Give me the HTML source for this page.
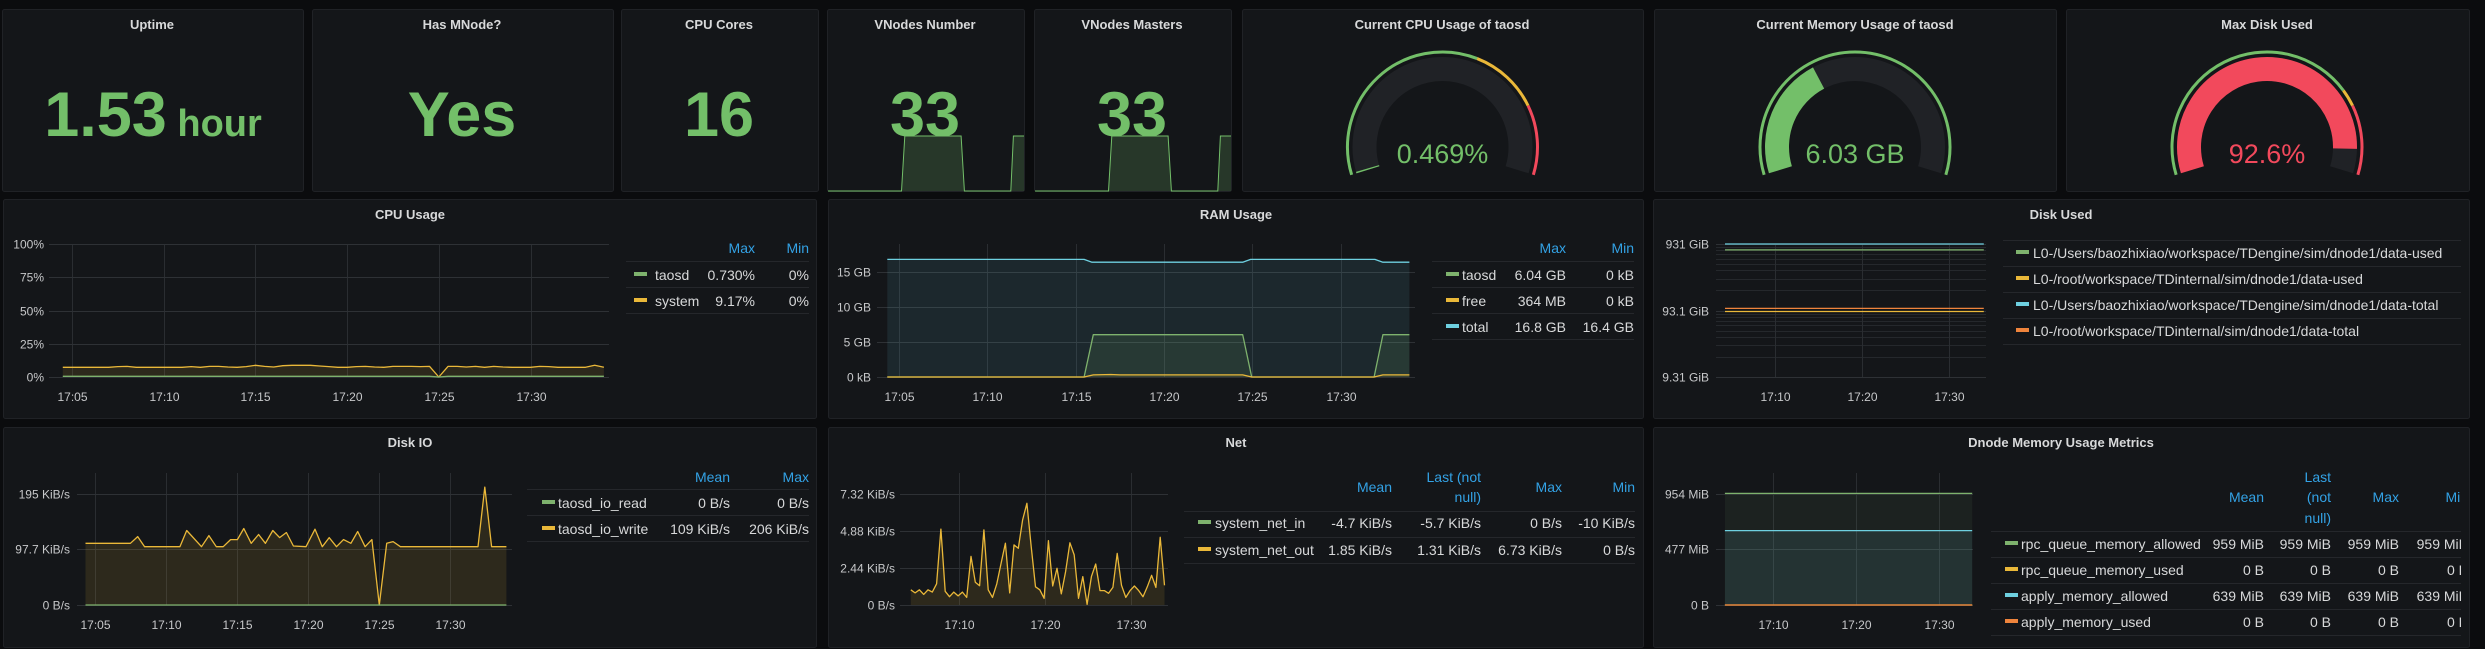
<!DOCTYPE html>
<html><head><meta charset="utf-8"><title>TDengine Dashboard</title>
<style>
html,body{margin:0;padding:0;background:#0b0c0e;width:2485px;height:649px;overflow:hidden}
svg{display:block;font-family:"Liberation Sans",sans-serif}
.ttl{font-size:13px;font-weight:bold;fill:#d8d9da;text-anchor:middle}
.lg{font-size:14px;fill:#d8d9da}
.lr{font-size:14px;fill:#d8d9da;text-anchor:end}
.hd{font-size:14px;fill:#33a2e5;text-anchor:end}
.tk{font-size:12px;fill:#c7c8ca}
.pn{fill:#141619;stroke:#202226;stroke-width:1}
</style></head><body>
<svg id="chart" width="2485" height="649" viewBox="0 0 2485 649" xmlns="http://www.w3.org/2000/svg">
<defs><clipPath id="dnclip"><rect x="1990" y="460" width="471" height="190"/></clipPath></defs>
<rect class="pn" x="2.5" y="9.5" width="301" height="182" rx="2"/>
<rect class="pn" x="312.5" y="9.5" width="301" height="182" rx="2"/>
<rect class="pn" x="621.5" y="9.5" width="197" height="182" rx="2"/>
<rect class="pn" x="827.5" y="9.5" width="197" height="182" rx="2"/>
<rect class="pn" x="1034.5" y="9.5" width="197" height="182" rx="2"/>
<rect class="pn" x="1242.5" y="9.5" width="401" height="182" rx="2"/>
<rect class="pn" x="1654.5" y="9.5" width="402" height="182" rx="2"/>
<rect class="pn" x="2066.5" y="9.5" width="403" height="182" rx="2"/>
<rect class="pn" x="3.5" y="199.5" width="813" height="219" rx="2"/>
<rect class="pn" x="828.5" y="199.5" width="815" height="219" rx="2"/>
<rect class="pn" x="1653.5" y="199.5" width="816" height="219" rx="2"/>
<rect class="pn" x="3.5" y="427.5" width="813" height="220" rx="2"/>
<rect class="pn" x="828.5" y="427.5" width="815" height="220" rx="2"/>
<rect class="pn" x="1653.5" y="427.5" width="816" height="220" rx="2"/>

<text class="ttl" x="152" y="29">Uptime</text>
<text class="ttl" x="462" y="29">Has MNode?</text>
<text class="ttl" x="719" y="29">CPU Cores</text>
<text class="ttl" x="925" y="29">VNodes Number</text>
<text class="ttl" x="1132" y="29">VNodes Masters</text>
<text class="ttl" x="1442" y="29">Current CPU Usage of taosd</text>
<text class="ttl" x="1855" y="29">Current Memory Usage of taosd</text>
<text class="ttl" x="2267" y="29">Max Disk Used</text>
<text class="ttl" x="410" y="219">CPU Usage</text>
<text class="ttl" x="1236" y="219">RAM Usage</text>
<text class="ttl" x="2061" y="219">Disk Used</text>
<text class="ttl" x="410" y="447">Disk IO</text>
<text class="ttl" x="1236" y="447">Net</text>
<text class="ttl" x="2061" y="447">Dnode Memory Usage Metrics</text>

<g id="spark"></g>

<text x="153" y="136" text-anchor="middle" fill="#73bf69" font-size="63" font-weight="bold">1.53<tspan font-size="38"> hour</tspan></text>
<text x="462" y="136" text-anchor="middle" fill="#73bf69" font-size="63" font-weight="bold">Yes</text>
<text x="719" y="136" text-anchor="middle" fill="#73bf69" font-size="63" font-weight="bold">16</text>

<g>
<text class="hd" x="755" y="253">Max</text><text class="hd" x="809" y="253">Min</text>
<line x1="626" x2="809" y1="261.5" y2="261.5" stroke="#25272b"/><line x1="626" x2="809" y1="287.5" y2="287.5" stroke="#25272b"/><line x1="626" x2="809" y1="313.5" y2="313.5" stroke="#25272b"/>
<rect x="634" y="272" width="13" height="4" fill="#7eb26d"/><text class="lg" x="655" y="280">taosd</text><text class="lr" x="755" y="280">0.730%</text><text class="lr" x="809" y="280">0%</text>
<rect x="634" y="298" width="13" height="4" fill="#eab839"/><text class="lg" x="655" y="306">system</text><text class="lr" x="755" y="306">9.17%</text><text class="lr" x="809" y="306">0%</text>
</g>
<g>
<text class="hd" x="1566" y="253">Max</text><text class="hd" x="1634" y="253">Min</text>
<line x1="1432" x2="1634" y1="261.5" y2="261.5" stroke="#25272b"/><line x1="1432" x2="1634" y1="287.5" y2="287.5" stroke="#25272b"/><line x1="1432" x2="1634" y1="313.5" y2="313.5" stroke="#25272b"/><line x1="1432" x2="1634" y1="339.5" y2="339.5" stroke="#25272b"/>
<rect x="1446" y="272" width="13" height="4" fill="#7eb26d"/><text class="lg" x="1462" y="280">taosd</text><text class="lr" x="1566" y="280">6.04 GB</text><text class="lr" x="1634" y="280">0 kB</text>
<rect x="1446" y="298" width="13" height="4" fill="#eab839"/><text class="lg" x="1462" y="306">free</text><text class="lr" x="1566" y="306">364 MB</text><text class="lr" x="1634" y="306">0 kB</text>
<rect x="1446" y="324" width="13" height="4" fill="#6ed0e0"/><text class="lg" x="1462" y="332">total</text><text class="lr" x="1566" y="332">16.8 GB</text><text class="lr" x="1634" y="332">16.4 GB</text>
</g>
<g>
<line x1="2003" x2="2461" y1="240.5" y2="240.5" stroke="#25272b"/><line x1="2003" x2="2461" y1="266.5" y2="266.5" stroke="#25272b"/><line x1="2003" x2="2461" y1="292.5" y2="292.5" stroke="#25272b"/><line x1="2003" x2="2461" y1="318.5" y2="318.5" stroke="#25272b"/><line x1="2003" x2="2461" y1="344.5" y2="344.5" stroke="#25272b"/>
<rect x="2016" y="250" width="13" height="4" fill="#7eb26d"/><text class="lg" x="2033" y="258">L0-/Users/baozhixiao/workspace/TDengine/sim/dnode1/data-used</text>
<rect x="2016" y="276" width="13" height="4" fill="#eab839"/><text class="lg" x="2033" y="284">L0-/root/workspace/TDinternal/sim/dnode1/data-used</text>
<rect x="2016" y="302" width="13" height="4" fill="#6ed0e0"/><text class="lg" x="2033" y="310">L0-/Users/baozhixiao/workspace/TDengine/sim/dnode1/data-total</text>
<rect x="2016" y="328" width="13" height="4" fill="#ef843c"/><text class="lg" x="2033" y="336">L0-/root/workspace/TDinternal/sim/dnode1/data-total</text>
</g>
<g>
<text class="hd" x="730" y="482">Mean</text><text class="hd" x="809" y="482">Max</text>
<line x1="527" x2="809" y1="489.5" y2="489.5" stroke="#25272b"/><line x1="527" x2="809" y1="515.5" y2="515.5" stroke="#25272b"/><line x1="527" x2="809" y1="541.5" y2="541.5" stroke="#25272b"/>
<rect x="542" y="500" width="13" height="4" fill="#7eb26d"/><text class="lg" x="558" y="508">taosd_io_read</text><text class="lr" x="730" y="508">0 B/s</text><text class="lr" x="809" y="508">0 B/s</text>
<rect x="542" y="526" width="13" height="4" fill="#eab839"/><text class="lg" x="558" y="534">taosd_io_write</text><text class="lr" x="730" y="534">109 KiB/s</text><text class="lr" x="809" y="534">206 KiB/s</text>
</g>
<g>
<text class="hd" x="1392" y="492">Mean</text><text class="hd" x="1481" y="482">Last (not</text><text class="hd" x="1481" y="502">null)</text><text class="hd" x="1562" y="492">Max</text><text class="hd" x="1635" y="492">Min</text>
<line x1="1184" x2="1635" y1="511.5" y2="511.5" stroke="#25272b"/><line x1="1184" x2="1635" y1="537.5" y2="537.5" stroke="#25272b"/><line x1="1184" x2="1635" y1="563.5" y2="563.5" stroke="#25272b"/>
<rect x="1198" y="520" width="13" height="4" fill="#7eb26d"/><text class="lg" x="1215" y="528">system_net_in</text><text class="lr" x="1392" y="528">-4.7 KiB/s</text><text class="lr" x="1481" y="528">-5.7 KiB/s</text><text class="lr" x="1562" y="528">0 B/s</text><text class="lr" x="1635" y="528">-10 KiB/s</text>
<rect x="1198" y="547" width="13" height="4" fill="#eab839"/><text class="lg" x="1215" y="555">system_net_out</text><text class="lr" x="1392" y="555">1.85 KiB/s</text><text class="lr" x="1481" y="555">1.31 KiB/s</text><text class="lr" x="1562" y="555">6.73 KiB/s</text><text class="lr" x="1635" y="555">0 B/s</text>
</g>
<g clip-path="url(#dnclip)">
<text class="hd" x="2264" y="502">Mean</text><text class="hd" x="2331" y="482">Last</text><text class="hd" x="2331" y="502">(not</text><text class="hd" x="2331" y="523">null)</text><text class="hd" x="2399" y="502">Max</text><text class="hd" x="2468" y="502">Min</text>
<line x1="1991" x2="2461" y1="531.5" y2="531.5" stroke="#25272b"/><line x1="1991" x2="2461" y1="557.5" y2="557.5" stroke="#25272b"/><line x1="1991" x2="2461" y1="583.5" y2="583.5" stroke="#25272b"/><line x1="1991" x2="2461" y1="609.5" y2="609.5" stroke="#25272b"/><line x1="1991" x2="2461" y1="635.5" y2="635.5" stroke="#25272b"/>
<rect x="2005" y="541" width="13" height="4" fill="#7eb26d"/><text class="lg" x="2021" y="549">rpc_queue_memory_allowed</text><text class="lr" x="2264" y="549">959 MiB</text><text class="lr" x="2331" y="549">959 MiB</text><text class="lr" x="2399" y="549">959 MiB</text><text class="lr" x="2468" y="549">959 MiB</text>
<rect x="2005" y="567" width="13" height="4" fill="#eab839"/><text class="lg" x="2021" y="575">rpc_queue_memory_used</text><text class="lr" x="2264" y="575">0 B</text><text class="lr" x="2331" y="575">0 B</text><text class="lr" x="2399" y="575">0 B</text><text class="lr" x="2468" y="575">0 B</text>
<rect x="2005" y="593" width="13" height="4" fill="#6ed0e0"/><text class="lg" x="2021" y="601">apply_memory_allowed</text><text class="lr" x="2264" y="601">639 MiB</text><text class="lr" x="2331" y="601">639 MiB</text><text class="lr" x="2399" y="601">639 MiB</text><text class="lr" x="2468" y="601">639 MiB</text>
<rect x="2005" y="619" width="13" height="4" fill="#ef843c"/><text class="lg" x="2021" y="627">apply_memory_used</text><text class="lr" x="2264" y="627">0 B</text><text class="lr" x="2331" y="627">0 B</text><text class="lr" x="2399" y="627">0 B</text><text class="lr" x="2468" y="627">0 B</text>
</g>
</svg>
<script>
const cpuSystem = [7.3,7.3,7.3,7.3,7.3,7.3,7.8,8.0,7.3,7.3,7.3,7.3,7.3,7.3,7.8,7.3,8,8,7.5,7.3,7.8,8.8,8,7.5,8.5,8.8,8.8,8.8,8.3,7.8,7.3,7.3,7.8,8,7.5,7.3,8,8,8,7.8,8,0,8,8,7.5,8,7.3,8,7.5,7.3,7.3,7.3,8,7.8,7.3,7.3,7.3,7.3,8.8,7.3];
const cpuTaosd = [0.5,0.5,0.5,0.5,0.5,0.5,0.5,0.5,0.5,0.5,0.5,0.5,0.5,0.5,0.5,0.5,0.5,0.5,0.5,0.5,0.5,0.5,0.5,0.5,0.5,0.5,0.5,0.5,0.5,0.5,0.5,0.5,0.5,0.5,0.5,0.5,0.5,0.5,0.5,0.5,0.5,0,0.5,0.5,0.5,0.5,0.5,0.5,0.5,0.5,0.5,0.5,0.5,0.5,0.5,0.5,0.5,0.5,0.5,0.5];
const cpuYTicks = [0,25,50,75,100];
const cpuYLabels = ["0%","25%","50%","75%","100%"];
const xTicks5 = [5,10,15,20,25,30];
const xLabels5 = ["17:05","17:10","17:15","17:20","17:25","17:30"];
const xTicks10 = [10,20,30];
const xLabels10 = ["17:10","17:20","17:30"];

const ramTotalT = [4.34,15.48,15.93,24.46,24.91,31.95,32.4,33.9];
const ramTotalV = [16.8,16.8,16.4,16.4,16.8,16.8,16.4,16.4];
const ramTaosdT = [4.34,15.48,16.0,24.46,24.97,31.9,32.4,33.9];
const ramTaosdV = [0,0,6.04,6.04,0,0,6.04,6.04];
const ramFreeT = [4.34,15.48,16.0,17.0,17.5,24.46,24.97,31.9,32.4,33.9];
const ramFreeV = [0,0,0.3,0.36,0.3,0.3,0,0,0.3,0.3];
const ramYTicks = [0,5,10,15];
const ramYLabels = ["0 kB","5 GB","10 GB","15 GB"];

const diskT = [4.25,34.0];
const diskUsed1 = [760,760];
const diskUsed2 = [90,90];
const diskTotal1 = [931,931];
const diskTotal2 = [100,100];
const diskYTicks = [9.31,93.1,931];
const diskYLabels = ["9.31 GiB","93.1 GiB","931 GiB"];

const ioWriteT = [4.33,7.49,8.01,8.49,10.98,11.46,12.5,13.02,13.54,14.03,14.55,15.03,15.48,16.0,16.52,17.0,17.52,18.0,18.48,18.97,19.86,20.49,21.01,21.49,22.01,22.5,23.02,23.5,24.02,24.5,25.02,25.54,25.99,26.51,31.97,32.45,32.93,33.97];
const ioWriteV = [108.4,108.4,120.2,102.4,102.4,130.9,102.4,122,102.4,102.4,114.9,114.9,134.4,108.4,123.8,108.4,130.9,118.4,127.3,103.6,102.4,133.2,102.4,118.4,102.4,114.9,108.4,129.1,102.4,114.9,0,108.4,111.3,102.4,102.4,207.2,102.4,102.4];
const ioReadT = [4.33,33.97];
const ioReadV = [0,0];
const ioYTicks = [0,97.7,195];
const ioYLabels = ["0 B/s","97.7 KiB/s","195 KiB/s"];

const netOutV = [1.0,0.8,1.0,0.7,1.0,0.85,1.4,5.0,0.9,0.55,0.85,0.6,0.85,0.5,3.2,1.5,1.27,4.95,1.0,0.5,1.4,2.75,4.07,0.8,3.96,3.74,5.6,6.7,3.85,1.2,1.0,0.44,4.24,1.25,2.42,0.73,2.2,4.1,3.3,0.44,1.87,0.04,1.87,2.7,0.95,0.95,0.77,1.16,3.4,1.3,0.5,0.95,1.25,0.95,0.55,1.2,1.96,1.16,4.46,1.3];
const netStart = 4.4, netStep = 0.5;
const netYTicks = [0,2.44,4.88,7.32];
const netYLabels = ["0 B/s","2.44 KiB/s","4.88 KiB/s","7.32 KiB/s"];

const dnT = [4.2,34.0];
const dnRpcAllowed = [959,959];
const dnRpcUsed = [0,0];
const dnApplyAllowed = [639,639];
const dnApplyUsed = [0,0];
const dnYTicks = [0,477,954];
const dnYLabels = ["0 B","477 MiB","954 MiB"];

const vnodeT = [4.4,15.5,16.0,24.5,25.0,32.0,32.4,34.0];
const vnodeV = [0,0,33,33,0,0,33,33];
const vmasterV = [0,0,33,33,0,0,33,33];

const gaugeValues = [0.469, 6.03, 92.6];
const gaugeMax = [100, 16.3, 100];
const gaugeLabels = ["0.469%","6.03 GB","92.6%"];

const NS = "http://www.w3.org/2000/svg";
const S = document.getElementById('chart');
function el(tag, a, parent){ const e=document.createElementNS(NS,tag); for(const k in a) e.setAttribute(k,a[k]); (parent||S).appendChild(e); return e; }

function axes(c){
  c.x = t => c.ax + (t - c.at) * c.ppm;
  c.y = v => c.log ? c.py1 - Math.log10(v / c.ymin) / Math.log10(c.ymax / c.ymin) * (c.py1 - c.py0)
                   : c.py1 - (v - c.ymin) / (c.ymax - c.ymin) * (c.py1 - c.py0);
  const g = el('g', {});
  
  
  if (c.minor) {
    for (let k = 0; k < c.yTicks.length - 1; k++) for (let m = 2; m < 10; m++) {
      const yy = Math.round(c.y(c.yTicks[k] * m)) + 0.5;
      const ln = el('line', {x1:c.gx, x2:c.gr, y1:yy, y2:yy, stroke:'#25282c'}, g);
      
      
    }
  }
  c.xTicks.forEach((t,i) => {
    const xx = Math.round(c.x(t)) + 0.5;
    const ln = el('line', {x1:xx, x2:xx, y1:c.py0, y2:c.py1, stroke:'#2a2d31'}, g);
    
    
    const tx = el('text', {x:xx, y:c.py1 + 24, 'text-anchor':'middle', class:'tk'}, g);
    tx.textContent = c.xLabels[i];
    
    
  });
  c.yTicks.forEach((v,i) => {
    const yy = Math.round(c.y(v)) + 0.5;
    const ln = el('line', {x1:c.gx, x2:c.gr, y1:yy, y2:yy, stroke:'#2e3135'}, g);
    
    
    const tx = el('text', {x:c.lx, y:yy + 4, 'text-anchor':'end', class:'tk'}, g);
    tx.textContent = c.yLabels[i];
    
    
  });
}
function series(c, T, V, color, fill, name){
  let d = '';
  T.forEach((t,i) => { d += (i ? 'L' : 'M') + c.x(t).toFixed(1) + ',' + c.y(V[i]).toFixed(1); });
  if (fill) {
    const base = c.y(c.log ? c.ymin : 0);
    const a = el('path', {d: d + 'L' + c.x(T[T.length-1]).toFixed(1) + ',' + base + 'L' + c.x(T[0]).toFixed(1) + ',' + base + 'Z', fill: color, 'fill-opacity': fill, stroke:'none'});
    
    
  }
  const p = el('path', {d: d, fill:'none', stroke: color, 'stroke-width': 1.3, 'stroke-linejoin':'round'});
  
  
}

const cpu = {name:'cpu-usage', ax:72, at:5, ppm:18.34, py0:244, py1:377, ymin:0, ymax:100, gx:49, gr:609, lx:44, yTicks:cpuYTicks, yLabels:cpuYLabels, xTicks:xTicks5, xLabels:xLabels5};
axes(cpu);
const cpuT = cpuSystem.map((v,i) => 4.5 + i * 0.5);
series(cpu, cpuT, cpuSystem, '#eab839', 0.12, 'cpu-system');
series(cpu, cpuT, cpuTaosd, '#7eb26d', 0.1, 'cpu-taosd');

const ram = {name:'ram-usage', ax:899, at:5, ppm:17.66, py0:244, py1:377, ymin:0, ymax:19, gx:877, gr:1415, lx:871, yTicks:ramYTicks, yLabels:ramYLabels, xTicks:xTicks5, xLabels:xLabels5};
axes(ram);
series(ram, ramTotalT, ramTotalV, '#6ed0e0', 0.1, 'ram-total');
series(ram, ramTaosdT, ramTaosdV, '#7eb26d', 0.12, 'ram-taosd');
series(ram, ramFreeT, ramFreeV, '#eab839', 0.1, 'ram-free');

const disk = {name:'disk-used', ax:1775, at:10, ppm:8.7, py0:244, py1:377, ymin:9.31, ymax:931, log:true, minor:true, gx:1716, gr:1986, lx:1709, yTicks:diskYTicks, yLabels:diskYLabels, xTicks:xTicks10, xLabels:xLabels10};
axes(disk);
series(disk, diskT, diskTotal1, '#6ed0e0', 0, 'disk-total-1');
series(disk, diskT, diskUsed1, '#7eb26d', 0, 'disk-used-1');
series(disk, diskT, diskTotal2, '#ef843c', 0, 'disk-total-2');
series(disk, diskT, diskUsed2, '#eab839', 0, 'disk-used-2');

const io = {name:'disk-io', ax:95, at:5, ppm:14.2, py0:473, py1:605, ymin:0, ymax:231.9, gx:77, gr:512, lx:70, yTicks:ioYTicks, yLabels:ioYLabels, xTicks:xTicks5, xLabels:xLabels5};
axes(io);
series(io, ioWriteT, ioWriteV, '#eab839', 0.12, 'io-write');
series(io, ioReadT, ioReadV, '#7eb26d', 0.1, 'io-read');

const net = {name:'net', ax:959, at:10, ppm:8.6, py0:473, py1:605, ymin:0, ymax:8.70, gx:900, gr:1168, lx:895, yTicks:netYTicks, yLabels:netYLabels, xTicks:xTicks10, xLabels:xLabels10};
axes(net);
const netT = netOutV.map((v,i) => netStart + i * netStep);
series(net, netT, netOutV, '#eab839', 0.12, 'net-out');

const dn = {name:'dnode-memory', ax:1773, at:10, ppm:8.3, py0:473, py1:605, ymin:0, ymax:1134, gx:1716, gr:1973, lx:1709, yTicks:dnYTicks, yLabels:dnYLabels, xTicks:xTicks10, xLabels:xLabels10};
axes(dn);
series(dn, dnT, dnRpcAllowed, '#7eb26d', 0.08, 'rpc-allowed');
series(dn, dnT, dnApplyAllowed, '#6ed0e0', 0.1, 'apply-allowed');
series(dn, dnT, dnRpcUsed, '#eab839', 0, 'rpc-used');
series(dn, dnT, dnApplyUsed, '#ef843c', 0, 'apply-used');

const sparkG = document.getElementById('spark');
function spark(px0, px1, T, V, name){
  const c = {x: t => px0 + (t - 4.4) / (34.0 - 4.4) * (px1 - px0), y: v => 191 - v / 33 * 55};
  let d = '';
  T.forEach((t,i) => { d += (i ? 'L' : 'M') + c.x(t).toFixed(1) + ',' + c.y(V[i]).toFixed(1); });
  const a = el('path', {d: d + 'L' + px1 + ',191L' + px0 + ',191Z', fill:'#73bf69', 'fill-opacity':0.2, stroke:'none'}, sparkG);
  
  
  const p = el('path', {d: d, fill:'none', stroke:'#73bf69', 'stroke-width':1}, sparkG);
  
  
}
spark(828, 1024, vnodeT, vnodeV, 'vnodes-number');
spark(1035, 1231, vnodeT, vmasterV, 'vnodes-masters');
const vn1 = el('text', {x:925, y:136, 'text-anchor':'middle', fill:'#73bf69', 'font-size':63, 'font-weight':'bold'});
vn1.textContent = '33';


const vn2 = el('text', {x:1132, y:136, 'text-anchor':'middle', fill:'#73bf69', 'font-size':63, 'font-weight':'bold'});
vn2.textContent = '33';



const gaugeCx = [1442.5, 1855, 2267];
const gaugeThresh = [[[0,0.6,'#73bf69'],[0.6,0.8,'#eab839'],[0.8,1,'#f2495c']], [[0,1,'#73bf69']], [[0,0.75,'#73bf69'],[0.75,0.8,'#eab839'],[0.8,1,'#f2495c']]];
const gaugeColor = ['#73bf69','#73bf69','#f2495c'];
const A0 = -107, A1 = 107, GCY = 147;
function arc(cx, cy, r, a0, a1){
  const p = a => [cx + r * Math.sin(a * Math.PI / 180), cy - r * Math.cos(a * Math.PI / 180)];
  const s = p(a0), e = p(a1);
  return 'M' + s[0].toFixed(2) + ',' + s[1].toFixed(2) + 'A' + r + ',' + r + ' 0 ' + ((a1 - a0) > 180 ? 1 : 0) + ' 1 ' + e[0].toFixed(2) + ',' + e[1].toFixed(2);
}
gaugeValues.forEach((v,i) => {
  const cx = gaugeCx[i];
  const bg = el('path', {d: arc(cx, GCY, 78, A0, A1), fill:'none', stroke:'#202226', 'stroke-width':24});
  
  
  const frac = Math.min(v / gaugeMax[i], 1);
  const fv = el('path', {d: arc(cx, GCY, 78, A0, A0 + (A1 - A0) * Math.max(frac, 0.004)), fill:'none', stroke: gaugeColor[i], 'stroke-width':24});
  
  
  gaugeThresh[i].forEach(th => {
    const t = el('path', {d: arc(cx, GCY, 95, A0 + (A1 - A0) * th[0], A0 + (A1 - A0) * th[1]), fill:'none', stroke: th[2], 'stroke-width':3});
    
    
  });
  const tx = el('text', {x: cx, y: 163, 'text-anchor':'middle', fill: gaugeColor[i], 'font-size':27});
  tx.textContent = gaugeLabels[i];
  
  
});
</script>
</body></html>
